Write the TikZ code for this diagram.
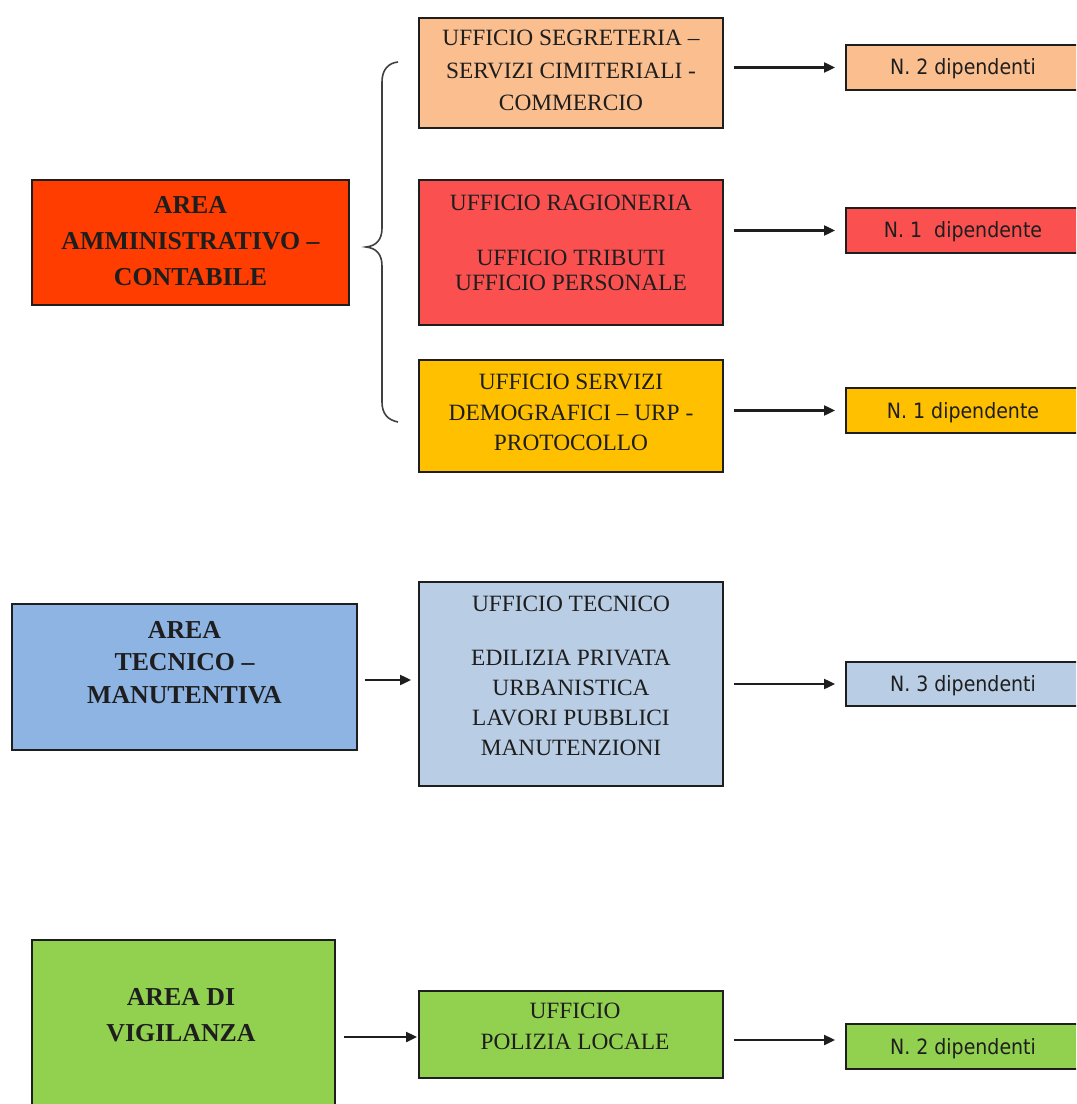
\documentclass[tikz,border=0pt]{standalone}
\usepackage{fontspec}
\setmainfont{Liberation Serif}
\newfontfamily\rfont{DejaVu Sans Condensed}
\usetikzlibrary{arrows.meta}
\definecolor{cAmm}{HTML}{FF3D00}
\definecolor{cSeg}{HTML}{FBBF8F}
\definecolor{cRag}{HTML}{FA5050}
\definecolor{cDem}{HTML}{FFC000}
\definecolor{cTecA}{HTML}{8EB4E3}
\definecolor{cTecB}{HTML}{B9CDE5}
\definecolor{cVig}{HTML}{92D050}
\definecolor{cInk}{HTML}{1E1E1E}
\begin{document}
\begin{tikzpicture}[x=0.02cm,y=-0.02cm,
  box/.style={draw=cInk, line width=1.1pt, rectangle, inner sep=0pt},
  otxt/.style={align=center, text=cInk, inner sep=0pt},
  atxt/.style={align=center, text=cInk, inner sep=0pt, font=\bfseries\fontsize{14.7}{20.4}\selectfont},
  rtxt/.style={anchor=base, text=cInk, inner sep=0pt, font=\rfont\fontsize{12}{14}\selectfont},
  arr/.style={draw=cInk, line width=1.2pt, -{Triangle[length=0.22cm,width=0.2cm]}},
  bracestyle/.style={draw=black!75, line width=0.9pt}]
\useasboundingbox (0,0) rectangle (1076,1104);
\fill[white] (0,0) rectangle (1076,1104);
\clip (0,0) rectangle (1076,1104);

% ---------- Area amministrativo-contabile ----------
\node[box, fill=cAmm, minimum width=6.34cm, minimum height=2.5cm] (amm) at (190.5,242.5) {};
\node[atxt] (ammT) at (190.5,241) {AREA\\AMMINISTRATIVO –\\CONTABILE};

\draw[bracestyle] (398,62) .. controls (388,63) and (382,70) .. (382,82)
  -- (382,228) .. controls (382,240) and (376,246) .. (366,247)
  .. controls (376,248) and (382,254) .. (382,266)
  -- (382,402) .. controls (382,414) and (388,420) .. (398,422);

\node[box, fill=cSeg, minimum width=6.08cm, minimum height=2.2cm] (seg) at (571,73) {};
\node[otxt, font=\fontsize{13.3}{18.4}\selectfont] (segT) at (571,70.5)
  {UFFICIO SEGRETERIA –\\SERVIZI CIMITERIALI -\\COMMERCIO};

\node[box, fill=cRag, minimum width=6.08cm, minimum height=2.9cm] (rag) at (571,252.5) {};
\node[otxt, font=\fontsize{13.3}{14.2}\selectfont] (ragT) at (571,243)
  {UFFICIO RAGIONERIA\\[17pt]UFFICIO TRIBUTI\\UFFICIO PERSONALE};

\node[box, fill=cDem, minimum width=6.08cm, minimum height=2.24cm] (dem) at (571,416) {};
\node[otxt, font=\fontsize{13.3}{17.3}\selectfont] (demT) at (571,412.5)
  {UFFICIO SERVIZI\\DEMOGRAFICI – URP -\\PROTOCOLLO};

\node[box, fill=cSeg, minimum width=4.68cm, minimum height=0.9cm] (r1) at (963,67.5) {};
\node[rtxt] (r1T) at (963,75) {N. 2 dipendenti};
\node[box, fill=cRag, minimum width=4.68cm, minimum height=0.9cm] (r2) at (963,230.5) {};
\node[rtxt] (r2T) at (963,238) {N. 1\ \ dipendente};
\node[box, fill=cDem, minimum width=4.68cm, minimum height=0.9cm] (r3) at (963,410.5) {};
\node[rtxt] (r3T) at (963,418) {N. 1 dipendente};

\draw[arr, shorten <=0.2cm, shorten >=0.2cm] (seg.east |- r1.west) -- (r1.west);
\draw[arr, shorten <=0.2cm, shorten >=0.2cm] (rag.east |- r2.west) -- (r2.west);
\draw[arr, shorten <=0.2cm, shorten >=0.2cm] (dem.east |- r3.west) -- (r3.west);

% ---------- Area tecnico-manutentiva ----------
\node[box, fill=cTecA, minimum width=6.9cm, minimum height=2.92cm] (tecA) at (184.5,677) {};
\node[atxt, font=\bfseries\fontsize{14.7}{18.4}\selectfont] (tecAT) at (184.5,662.5) {AREA\\TECNICO –\\MANUTENTIVA};

\node[box, fill=cTecB, minimum width=6.08cm, minimum height=4.08cm] (tec) at (571,684) {};
\node[otxt, font=\fontsize{13.3}{17}\selectfont] (tecT) at (571,676)
  {UFFICIO TECNICO\\[13.6pt]EDILIZIA PRIVATA\\URBANISTICA\\LAVORI PUBBLICI\\MANUTENZIONI};

\node[box, fill=cTecB, minimum width=4.68cm, minimum height=0.88cm] (r4) at (963,684) {};
\node[rtxt] (r4T) at (963,691.5) {N. 3 dipendenti};

\draw[arr, shorten <=0.14cm, shorten >=0.14cm] ([yshift=-0.06cm]tecA.east) -- ([yshift=-0.06cm]tecA.east -| tec.west);
\draw[arr, shorten <=0.2cm, shorten >=0.2cm] (tec.east |- r4.west) -- (r4.west);

% ---------- Area di vigilanza ----------
\node[box, fill=cVig, minimum width=6.06cm, minimum height=4.0cm] (vig) at (183.5,1040) {};
\node[atxt, font=\bfseries\fontsize{14.7}{20.4}\selectfont] (vigT) at (181,1015) {AREA DI\\VIGILANZA};

\node[box, fill=cVig, minimum width=6.08cm, minimum height=1.74cm] (pol) at (571,1034.5) {};
\node[otxt, font=\fontsize{13.3}{17.6}\selectfont] (polT) at (575,1026.5) {UFFICIO\\POLIZIA LOCALE};

\node[box, fill=cVig, minimum width=4.68cm, minimum height=0.9cm] (r5) at (963,1046.5) {};
\node[rtxt] (r5T) at (963,1054) {N. 2 dipendenti};

\draw[arr, shorten <=0.16cm, shorten >=0.02cm] ([yshift=0.06cm]vig.east) -- ([yshift=0.06cm]vig.east -| pol.west);
\draw[arr, shorten <=0.2cm, shorten >=0.2cm] ([yshift=0.13cm]pol.east |- r5.west) -- ([yshift=0.13cm]r5.west);
\end{tikzpicture}
\end{document}
